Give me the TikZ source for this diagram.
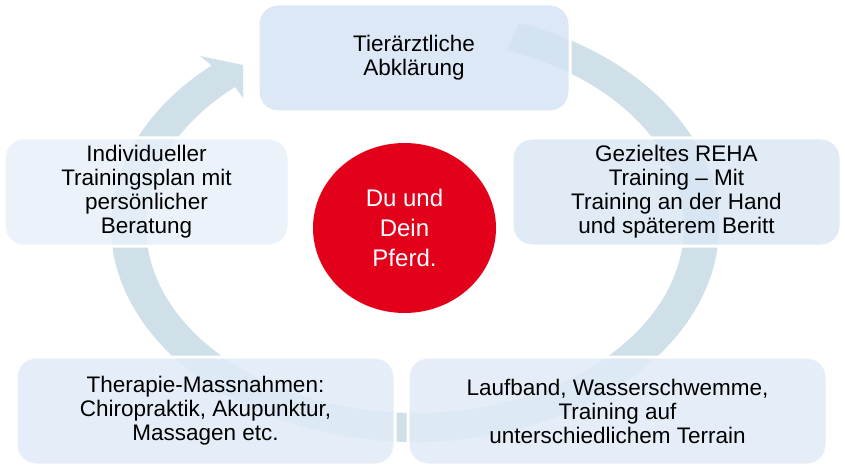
\documentclass[tikz,border=0pt]{standalone}
\usepackage{fontspec}
\setmainfont{Liberation Sans}
\usetikzlibrary{shapes.geometric}
\definecolor{ringblue}{RGB}{207,224,232}
\definecolor{hubred}{RGB}{226,0,26}
\definecolor{topfill}{RGB}{214,228,243}
\definecolor{leftfill}{RGB}{231,240,249}
\definecolor{rightfill}{RGB}{218,231,244}
\definecolor{lowfill}{RGB}{224,235,247}

\begin{document}
\begin{tikzpicture}
  [x=1pt,y=1pt,
   every node/.style={align=center,inner sep=0pt,font=\fontsize{22.5}{24}\selectfont},
   box/.style={rectangle,rounded corners=20pt,draw=white,line width=3pt,fill opacity=.85,text opacity=1,minimum height=108pt},
   hub/.style={ellipse,fill=hubred,text=white,minimum width=183pt,minimum height=170pt,font=\fontsize{24}{30}\selectfont}]
  \useasboundingbox (0,0) rectangle (845,469);
  % ring with head
  \fill[ringblue] (519,446) arc[start angle=70,end angle=-228,x radius=304,y radius=216]
    -- (200,413) -- (243,404) -- (243,371) -- (235,382)
    arc[start angle=-228,end angle=70,x radius=269,y radius=187] -- cycle;
  \node[box,fill=topfill,minimum width=312pt] (vet) at (414,411) {Tierärztliche\\Abklärung};
  \node[box,fill=rightfill,minimum width=329pt] (reha) at (676.5,277) {Gezieltes REHA\\Training – Mit\\Training an der Hand\\und späterem Beritt};
  \node[box,fill=lowfill,minimum width=419pt] (band) at (617.5,58) {Laufband, Wasserschwemme,\\Training auf\\unterschiedlichem Terrain};
  \node[box,fill=lowfill,minimum width=379pt] (thera) at (205.5,58) {Therapie-Massnahmen:\\Chiropraktik, Akupunktur,\\Massagen etc.};
  \node[box,fill=leftfill,minimum width=285pt] (plan) at (146.5,277) {Individueller\\Trainingsplan mit\\persönlicher\\Beratung};
  \node[hub] (horse) at (404.5,241) {Du und\\Dein\\Pferd.};
\end{tikzpicture}
\end{document}
